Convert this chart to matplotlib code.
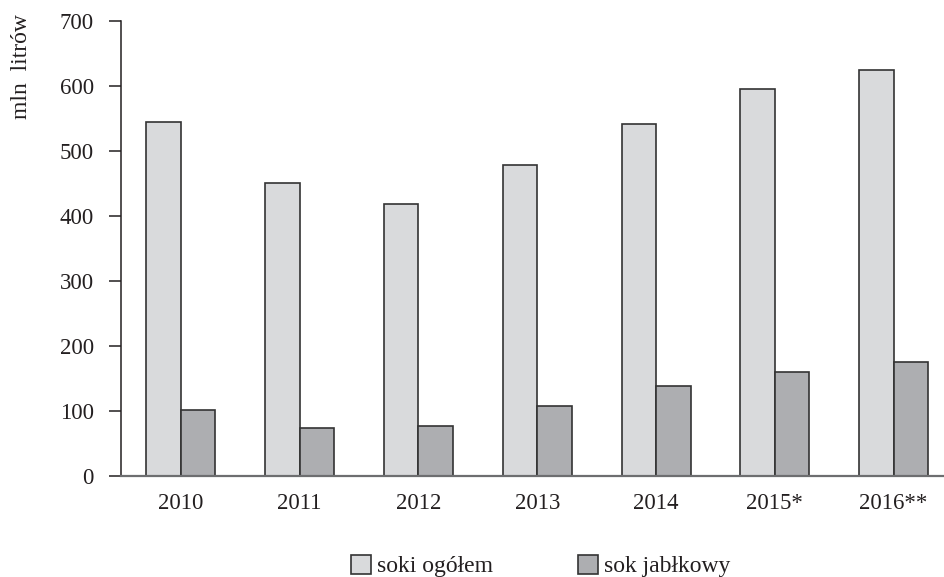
import matplotlib
matplotlib.use("Agg")
import matplotlib.pyplot as plt
import numpy as np

# Juice production, million litres
years = ["2010", "2011", "2012", "2013", "2014", "2015*", "2016**"]
soki_ogolem = [544, 451, 418, 479, 541, 596, 624]
sok_jablkowy = [102, 74, 77, 108, 139, 160, 175]
series_labels = ["soki ogółem", "sok jabłkowy"]

plt.rcParams["font.family"] = ["Liberation Serif", "DejaVu Serif"]
text_color = "#231f20"

fig = plt.figure(figsize=(9.44, 5.77), dpi=100)
ax = fig.add_axes([0.1287, 0.175, 0.8713, 0.7886])

x = np.arange(len(years))
w = 0.29
b1 = ax.bar(x - w / 2, soki_ogolem, width=w, color="#d9dadc",
            edgecolor="#333333", linewidth=1.2, label=series_labels[0])
b2 = ax.bar(x + w / 2, sok_jablkowy, width=w, color="#adaeb1",
            edgecolor="#333333", linewidth=1.2, label=series_labels[1])

ax.set_ylim(0, 700)
ax.set_xlim(-0.5, 6.424)
ax.set_yticks(np.arange(0, 701, 100))
ax.set_xticks(x)
ax.set_xticklabels(years)

for s in ("top", "right"):
    ax.spines[s].set_visible(False)
ax.spines["left"].set_color("#231f20")
ax.spines["left"].set_linewidth(1.1)
ax.spines["bottom"].set_color("#6d6e70")
ax.spines["bottom"].set_linewidth(1.6)

ax.tick_params(axis="y", direction="out", length=9, width=1.1,
               color="#231f20", pad=11, labelsize=16.5, labelcolor=text_color)
ax.tick_params(axis="x", length=0, pad=12, labelsize=16.5, labelcolor=text_color)

fig.text(22 / 944, 1 - 67 / 577, "mln  litrów", rotation=90, ha="center",
         va="center", fontsize=17, color=text_color)

fig.legend(handles=[b1, b2], labels=series_labels, ncol=2, frameon=False,
           loc="center", bbox_to_anchor=(541 / 944, 1 - 566 / 577),
           fontsize=17, handlelength=0.85, handleheight=0.85,
           handletextpad=0.25, columnspacing=3.6, labelcolor=text_color,
           borderaxespad=0, borderpad=0)

fig.savefig("out.png", dpi=100)
